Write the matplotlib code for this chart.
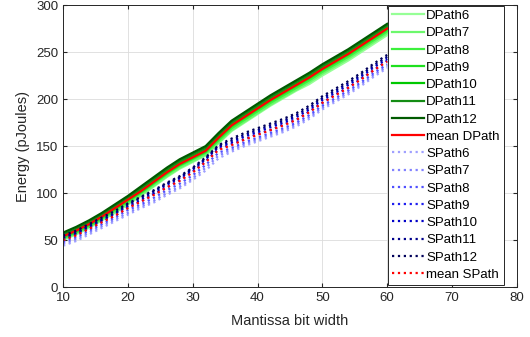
import matplotlib
matplotlib.use("Agg")
import matplotlib.pyplot as plt

plt.rcParams['font.family'] = ['Liberation Sans', 'DejaVu Sans']

# mantissa bit width
x = [10, 12, 14, 16, 18, 20, 22, 24, 26, 28, 30, 32, 34, 36, 38, 40, 42, 44, 46, 48, 50, 52, 54, 56, 58, 60]

# DPath energy (pJoules)
dpath6 = [50, 56, 63, 71, 79, 88, 97, 107, 117, 126, 133, 140, 153, 166, 175, 184, 193, 201, 209, 216, 225, 233, 241, 250, 259, 268]
dpath7 = [51, 57, 64, 72, 80, 89, 98, 108, 118, 127, 134, 141, 154, 167, 176, 185, 194, 202, 210, 218, 227, 235, 243, 252, 261, 270]
dpath8 = [52, 58, 65, 73, 82, 91, 100, 110, 120, 129, 136, 143, 156, 169, 178, 187, 196, 204, 212, 220, 229, 237, 245, 254, 263, 272]
dpath9 = [53, 59, 66, 74, 83, 92, 101, 111, 121, 130, 137, 144, 158, 171, 180, 189, 198, 206, 214, 222, 231, 239, 247, 256, 265, 274]
dpath10 = [55, 61, 68, 76, 85, 94, 103, 113, 123, 132, 139, 146, 160, 173, 182, 191, 200, 208, 216, 224, 233, 241, 249, 258, 267, 276]
dpath11 = [56, 62, 69, 77, 86, 95, 105, 115, 125, 134, 141, 148, 162, 175, 184, 193, 202, 210, 218, 226, 235, 243, 251, 260, 269, 278]
dpath12 = [58, 64, 71, 79, 88, 97, 107, 117, 127, 136, 143, 150, 164, 177, 186, 195, 204, 212, 220, 228, 237, 245, 253, 262, 271, 280]
mean_dpath = [54, 60, 67, 75, 84, 93, 102, 112, 122, 131, 138, 145, 159, 172, 181, 190, 199, 207, 215, 223, 232, 240, 248, 257, 266, 275]

# SPath energy (pJoules)
spath6 = [44, 49, 56, 63, 70, 77, 84, 90, 98, 105, 114, 124, 137, 144, 150, 155, 160, 165, 171, 179, 189, 197, 205, 214, 224, 233]
spath7 = [46, 51, 58, 65, 72, 79, 86, 92, 100, 107, 116, 127, 140, 146, 152, 157, 162, 167, 173, 181, 191, 199, 207, 216, 226, 235]
spath8 = [48, 53, 60, 67, 74, 82, 88, 95, 103, 110, 119, 130, 143, 148, 154, 159, 164, 169, 175, 183, 193, 201, 209, 218, 228, 237]
spath9 = [50, 56, 62, 70, 76, 85, 91, 99, 106, 114, 123, 134, 147, 152, 157, 163, 167, 173, 178, 187, 196, 205, 212, 222, 231, 241]
spath10 = [52, 57, 64, 71, 78, 86, 93, 100, 109, 116, 125, 136, 149, 154, 160, 165, 170, 175, 181, 189, 199, 207, 215, 224, 234, 243]
spath11 = [53, 58, 65, 72, 79, 88, 95, 102, 110, 117, 126, 137, 150, 156, 162, 167, 172, 177, 183, 191, 201, 209, 217, 226, 236, 245]
spath12 = [55, 60, 67, 74, 81, 89, 96, 103, 111, 118, 127, 138, 151, 158, 164, 169, 174, 179, 185, 193, 203, 211, 219, 228, 238, 247]
mean_spath = [50, 55, 62, 69, 76, 84, 91, 98, 106, 113, 122, 133, 146, 151, 157, 162, 167, 172, 178, 186, 196, 204, 212, 221, 231, 240]

dpaths = [dpath6, dpath7, dpath8, dpath9, dpath10, dpath11, dpath12]
spaths = [spath6, spath7, spath8, spath9, spath10, spath11, spath12]
widths = [6, 7, 8, 9, 10, 11, 12]
green = ['#96ff96', '#6cf86c', '#3cf03c', '#1ee01e', '#00c800', '#148c14', '#005a00']
blue = ['#a0a0ff', '#8282ff', '#5050ff', '#1e1ef0', '#0000c8', '#00008c', '#00005a']

fig = plt.figure(figsize=(5.3, 3.37), dpi=100)
ax = fig.add_axes([0.119, 0.148, 0.856, 0.837])

for i in range(7):
    ax.plot(x, dpaths[i], '-', color=green[i], lw=1.6, label='DPath%d' % widths[i])
ax.plot(x, mean_dpath, '-', color='red', lw=1.6, label='mean DPath')
for i in range(7):
    ax.plot(x, spaths[i], ':', color=blue[i], lw=1.6, label='SPath%d' % widths[i])
ax.plot(x, mean_spath, ':', color='red', lw=1.6, label='mean SPath')

ax.set_xlim(10, 80)
ax.set_ylim(0, 300)
ax.set_xticks(range(10, 81, 10))
ax.set_yticks(range(0, 301, 50))
ax.grid(True, color='#dcdcdc', lw=0.6)
ax.set_axisbelow(True)
ax.tick_params(direction='in', top=True, right=True, labelsize=9.5, colors='#262626', length=3)
for s in ax.spines.values():
    s.set_color('#262626')
    s.set_linewidth(0.7)
ax.set_xlabel('Mantissa bit width', fontsize=10.5, color='#262626', labelpad=7)
ax.set_ylabel('Energy (pJoules)', fontsize=10.5, color='#262626')

leg = ax.legend(loc='upper left', bbox_to_anchor=(0.716, 0.997), borderaxespad=0,
                fontsize=9.5, labelspacing=0.38, handlelength=2.4, handletextpad=0.2,
                borderpad=0.3, fancybox=False, framealpha=1, edgecolor='#262626')
leg.get_frame().set_linewidth(0.7)

fig.savefig('out.png', dpi=100)
